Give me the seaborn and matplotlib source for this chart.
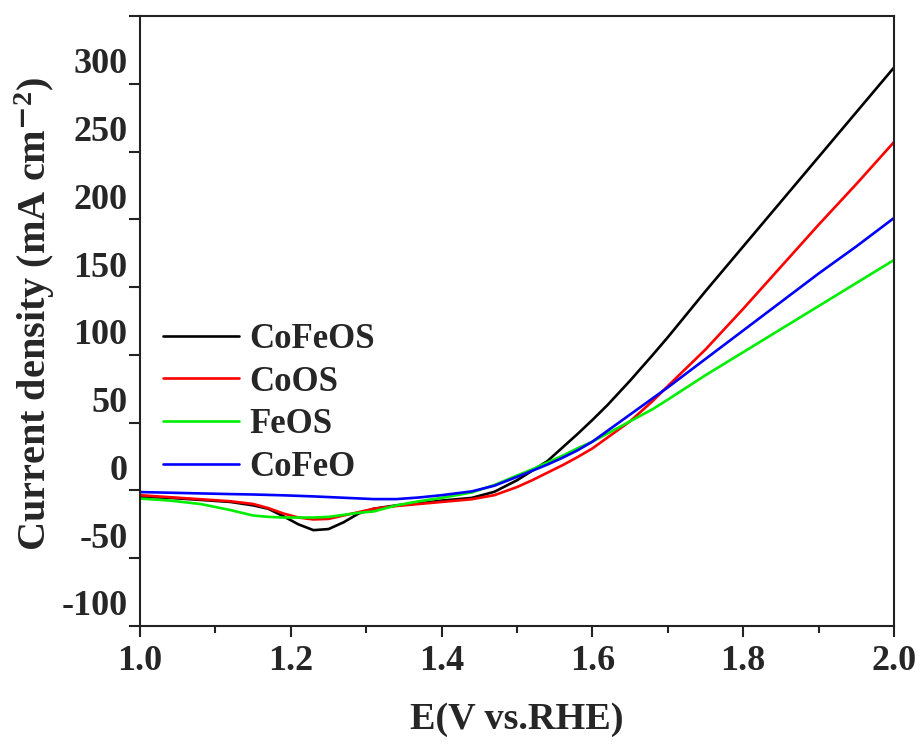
import numpy as np
import pandas as pd
import seaborn as sns
import matplotlib.pyplot as plt
import matplotlib.transforms as mtransforms
from matplotlib.ticker import MultipleLocator

# potential (V vs. RHE), shared by all four LSV curves
potential = [1.00, 1.04, 1.08, 1.12, 1.15, 1.17, 1.19, 1.21, 1.23, 1.25, 1.27, 1.29,
             1.31, 1.34, 1.37, 1.40, 1.44, 1.47, 1.50, 1.52, 1.54, 1.56, 1.58, 1.60,
             1.62, 1.65, 1.68, 1.70, 1.75, 1.80, 1.85, 1.90, 1.95, 2.00]

# current density (mA cm-2)
cofeos = [-4.6, -5.5, -7, -8.5, -11, -13.5, -19, -25, -29.3, -28.5, -23.5, -17,
          -13.5, -11, -9.5, -7.5, -5.5, -1, 7.5, 14.5, 21.5, 31.5, 41.5, 52,
          63, 81, 100, 113, 147, 180, 213, 246, 279, 312]
coos = [-3.5, -5, -6.5, -8, -10, -13, -17, -20, -21.4, -21, -18.5, -16,
        -13.5, -11.5, -10, -8.5, -6.5, -3.5, 2.5, 7.5, 13, 18.5, 24.5, 31,
        39, 51, 66, 77, 104, 134, 165, 196, 226, 257]
feos = [-6, -7.5, -10, -14.5, -18.5, -19.5, -20, -20, -20, -19.5, -18, -16.5,
        -15.5, -11, -8, -5.5, -1.5, 4, 11, 15.5, 20.5, 25.5, 31, 36,
        42, 51, 60, 67, 85, 102, 119, 136, 153, 170]
cofeo = [-1.2, -1.7, -2.2, -2.7, -3, -3.3, -3.6, -4, -4.4, -4.9, -5.4, -5.9,
         -6.4, -6.4, -5.2, -3.5, -0.7, 3.5, 10, 14.5, 19, 24, 29.5, 36,
         44, 56, 68, 76, 97, 118, 139, 160, 180, 201]

samples = ['CoFeOS', 'CoOS', 'FeOS', 'CoFeO']
colors = ['#000000', '#ff0000', '#00ee00', '#0000ff']

yticks = [-100, -50, 0, 50, 100, 150, 200, 250, 300, 350]
ytick_labels = ['-100', '-50', '0', '50', '100', '150', '200', '250', '300', '']
xticks = [1.0, 1.2, 1.4, 1.6, 1.8, 2.0]
xtick_labels = ['1.0', '1.2', '1.4', '1.6', '1.8', '2.0']

'''DATA CONVERSION'''
frames = []
for name, vals in zip(samples, [cofeos, coos, feos, cofeo]):
    frames.append(pd.DataFrame({'E': potential, 'j': vals, 'sample': name}))
data_df = pd.concat(frames, ignore_index=True)

'''PLOTTING'''
sns.set_style('ticks')
plt.rcParams['font.family'] = ['Liberation Serif', 'DejaVu Serif']
plt.rcParams['font.weight'] = 'bold'
plt.rcParams['mathtext.fontset'] = 'custom'
plt.rcParams['mathtext.rm'] = 'Liberation Serif:bold'
plt.rcParams['mathtext.bf'] = 'Liberation Serif:bold'
plt.rcParams['mathtext.default'] = 'bf'

fig = plt.figure(figsize=(9.23, 7.47), dpi=100)
ax = fig.add_axes([0.1517, 0.162, 0.8169, 0.8166])

sns.lineplot(data=data_df, x='E', y='j', hue='sample', hue_order=samples,
             palette=colors, linewidth=1.9, sort=False, ax=ax)

ax.set_xlim(1.0, 2.0)
ax.set_ylim(-100, 350)
ax.set_xticks(xticks)
ax.set_xticklabels(xtick_labels)
ax.xaxis.set_minor_locator(MultipleLocator(0.1))
ax.set_yticks(yticks)
ax.set_yticklabels(ytick_labels)

for side in ['left', 'right', 'top', 'bottom']:
    ax.spines[side].set_linewidth(1.5)
    ax.spines[side].set_color('#222222')

ax.tick_params(axis='both', which='major', direction='out', length=8, width=1.5,
               labelsize=26, color='#222222')
ax.tick_params(axis='x', which='major', pad=6)
ax.tick_params(axis='y', which='major', pad=1)
ax.tick_params(axis='x', which='minor', direction='out', length=5, width=1.5, color='#222222')

# y tick labels sit a little above their ticks in the original figure
shift = mtransforms.ScaledTranslation(0, 23 / 100, fig.dpi_scale_trans)
for lbl in ax.get_yticklabels():
    lbl.set_transform(lbl.get_transform() + shift)

# Plot Labels
ax.set_xlabel('E(V vs.RHE)', fontsize=27.5, fontweight='bold')
ax.set_ylabel('Current density (mA cm$^{\\mathsf{-}2}$)', fontsize=29, fontweight='bold')
ax.xaxis.set_label_coords(0.5, -0.125)
ax.yaxis.set_label_coords(-0.110, 0.512)

sns.move_legend(ax, 'upper left', bbox_to_anchor=(0.03, 0.497), title=None,
                frameon=False, fontsize=25, handlelength=2.2, handletextpad=0.3,
                labelspacing=0.28, borderaxespad=0, borderpad=0)
for line in ax.get_legend().get_lines():
    line.set_linewidth(1.9)

fig.savefig('out.png', dpi=100)
